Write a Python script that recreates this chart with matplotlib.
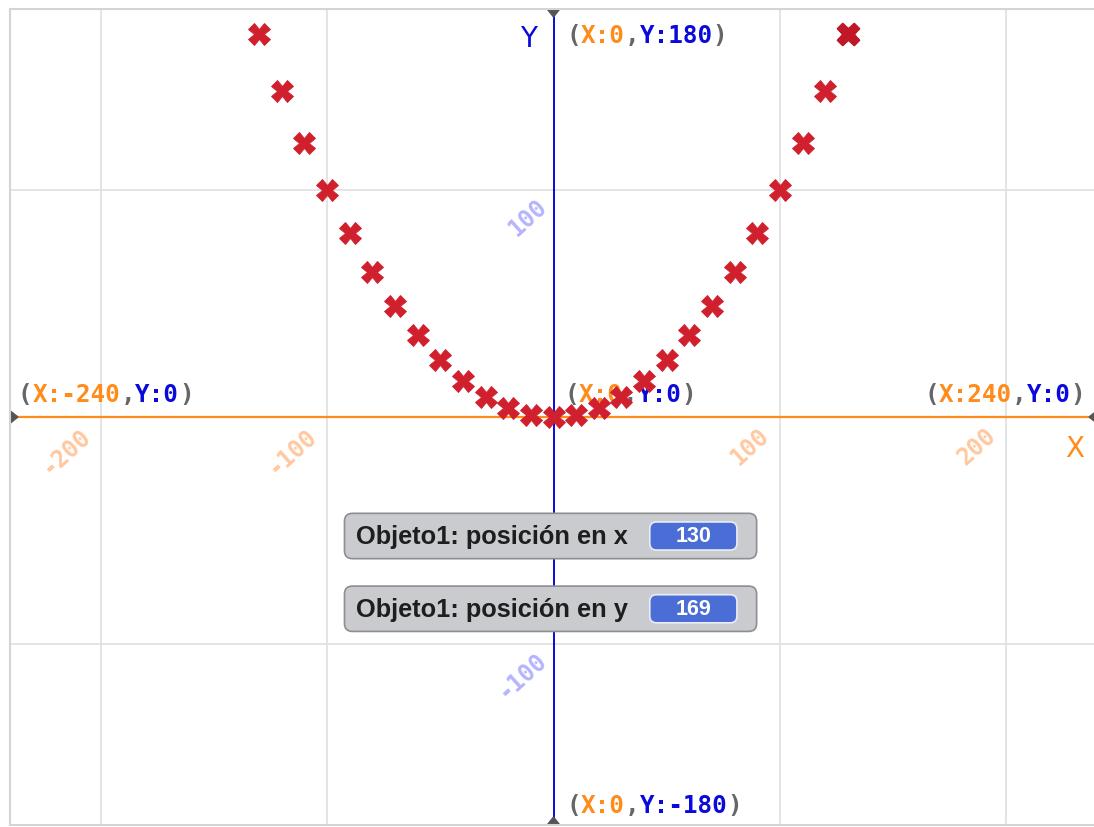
import matplotlib
matplotlib.use("Agg")
import matplotlib.pyplot as plt
from matplotlib.patches import FancyBboxPatch, Polygon

# Data: sprite positions stamped on the stage
x_pos = [-130, -120, -110, -100, -90, -80, -70, -60, -50, -40, -30, -20, -10, 0,
         10, 20, 30, 40, 50, 60, 70, 80, 90, 100, 110, 120, 130]
y_pos = [169, 144, 121, 100, 81, 64, 49, 36, 25, 16, 9, 4, 1, 0,
         1, 4, 9, 16, 25, 36, 49, 64, 81, 100, 121, 144, 169]

x_ticks = [-200, -100, 100, 200]
y_ticks = [100, -100]

monitor_labels = ["Objeto1: posición en x", "Objeto1: posición en y"]
monitor_values = ["130", "169"]

ORANGE = "#ff8c1a"
BLUE = "#0a0adc"
GRAY = "#666666"
DPI = 100

fig = plt.figure(figsize=(10.94, 8.28), dpi=DPI)
ax = fig.add_axes([10 / 1094, 2 / 828, 1087 / 1094, 816 / 828])
ax.set_xlim(-240, 240)
ax.set_ylim(-180, 180)
ax.set_xticks([])
ax.set_yticks([])
for s in ax.spines.values():
    s.set_color("#d4d4d4")
    s.set_linewidth(1.5)

# grid
for gx in x_ticks:
    ax.axvline(gx, color="#e2e2e2", lw=1.3, zorder=0)
for gy in y_ticks:
    ax.axhline(gy, color="#e2e2e2", lw=1.3, zorder=0)

# axes lines
ax.axhline(0, color=ORANGE, lw=1.6, zorder=1)
ax.axvline(0, color=BLUE, lw=1.4, zorder=1)

# little end triangles
tri = dict(color="#555555", zorder=2, clip_on=False)
ax.add_patch(Polygon([[-240, 2.8], [-240, -2.8], [-236.5, 0]], **tri))
ax.add_patch(Polygon([[240, 2.8], [240, -2.8], [236.5, 0]], **tri))
ax.add_patch(Polygon([[-2.8, 180], [2.8, 180], [0, 176.5]], **tri))
ax.add_patch(Polygon([[-2.8, -180], [2.8, -180], [0, -176.5]], **tri))

# rotated tick labels
tick_font = dict(family="DejaVu Sans Mono", fontweight="bold", fontsize=17,
                 rotation=42, ha="right", va="top", zorder=1)
for t in x_ticks:
    ax.text(t - 2.5, -2.5, str(t), color="#ffc8a0", **tick_font)
for t in y_ticks:
    ax.text(-0.8, t - 1.5, str(t), color="#b4b4ff", **tick_font)

# axis names
ax.text(-11, 167, "Y", color=BLUE, fontsize=20, ha="center", va="center")
ax.text(230, -13.5, "X", color=ORANGE, fontsize=20, ha="center", va="center")

# coordinate labels, drawn piece by piece in a monospace font
FS = 17.5
char_w = 0.602 * FS * DPI / 72


def coord_label(xd, yd, parts, dx, dy, right=False):
    n = sum(len(p[0]) for p in parts)
    start = dx - n * char_w if right else dx
    for txt, col in parts:
        ax.annotate(txt, (xd, yd), xytext=(start, dy), textcoords="offset pixels",
                    color=col, fontsize=FS, family="DejaVu Sans Mono",
                    fontweight="bold", ha="left", va="center", zorder=2,
                    annotation_clip=False)
        start += len(txt) * char_w


def parts_for(xs, ys):
    return [("(", GRAY), ("X:" + xs, ORANGE), (",", GRAY),
            ("Y:" + ys, BLUE), (")", GRAY)]


coord_label(-240, 0, parts_for("-240", "0"), 8, 23)
coord_label(0, 180, parts_for("0", "180"), 13, -26)
coord_label(0, 0, parts_for("0", "0"), 11, 23)
coord_label(240, 0, parts_for("240", "0"), -12, 23, right=True)
coord_label(0, -180, parts_for("0", "-180"), 13, 20)

# stamped sprites
ax.plot(x_pos, y_pos, linestyle="none", marker="X", markersize=15.5,
        color="#d0202e", markeredgecolor="#d0202e", markeredgewidth=0.6, zorder=3)
ax.plot(x_pos[-1:], y_pos[-1:], linestyle="none", marker="X", markersize=16.5,
        color="#c01826", zorder=4)

# variable monitors
box_tops = [-42.5, -74.6]
for label, val, top in zip(monitor_labels, monitor_values, box_tops):
    h = 20.0
    ax.add_patch(FancyBboxPatch((-92.3, top - h), 182.0, h,
                                boxstyle="round,pad=0,rounding_size=3.5",
                                fc="#c9cbce", ec="#8c8e92", lw=1.2, zorder=5))
    ax.text(-87.0, top - h / 2, label, fontsize=18.3, fontweight="bold",
            family="Liberation Sans", color="#1e1e1e", ha="left", va="center",
            zorder=6)
    ax.add_patch(FancyBboxPatch((42.5, top - h / 2 - 6.2), 38.5, 12.4,
                                boxstyle="round,pad=0,rounding_size=3",
                                fc="#4b6ed6", ec="#e8ecf8", lw=1.2, zorder=6))
    ax.text(61.7, top - h / 2, val, fontsize=15.5, color="white",
            fontweight="semibold", family="Liberation Sans",
            ha="center", va="center", zorder=7)

fig.savefig("out.png", dpi=DPI)
